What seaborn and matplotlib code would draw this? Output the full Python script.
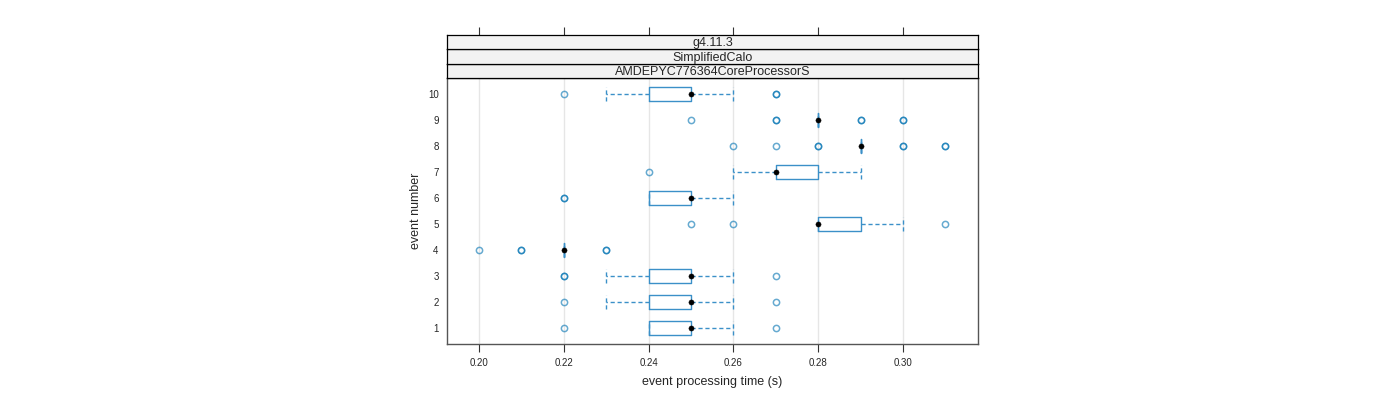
import pandas as pd
import numpy as np
import matplotlib
matplotlib.use("Agg")
import matplotlib.pyplot as plt
import seaborn as sns

# ── DATA ─────────────────────────────────────────────────────────────────────
# event processing times (s) per event number
ev1  = [0.22, 0.24, 0.24, 0.24, 0.25, 0.25, 0.25, 0.25, 0.25, 0.26, 0.27]
ev2  = [0.22, 0.23, 0.24, 0.24, 0.24, 0.25, 0.25, 0.25, 0.25, 0.26, 0.27]
ev3  = [0.22, 0.22, 0.23, 0.24, 0.24, 0.24, 0.25, 0.25, 0.25, 0.25, 0.25, 0.26, 0.27]
ev4  = [0.20, 0.21, 0.21] + [0.22] * 8 + [0.23, 0.23]
ev5  = [0.25, 0.26, 0.28, 0.28, 0.28, 0.28, 0.28, 0.29, 0.29, 0.29, 0.30, 0.31]
ev6  = [0.22, 0.22, 0.24, 0.24, 0.24, 0.25, 0.25, 0.25, 0.25, 0.25, 0.26]
ev7  = [0.24, 0.26, 0.27, 0.27, 0.27, 0.27, 0.27, 0.28, 0.28, 0.28, 0.29]
ev8  = [0.26, 0.27, 0.28, 0.28] + [0.29] * 9 + [0.30, 0.30, 0.31, 0.31]
ev9  = [0.25, 0.27, 0.27] + [0.28] * 10 + [0.29, 0.29, 0.30, 0.30]
ev10 = [0.22, 0.23, 0.24, 0.24, 0.24, 0.25, 0.25, 0.25, 0.25, 0.25, 0.26, 0.27, 0.27]

events = [1, 2, 3, 4, 5, 6, 7, 8, 9, 10]
times = [ev1, ev2, ev3, ev4, ev5, ev6, ev7, ev8, ev9, ev10]
x_ticks = [0.20, 0.22, 0.24, 0.26, 0.28, 0.30]
strips = ["g4.11.3", "SimplifiedCalo", "AMDEPYC776364CoreProcessorS"]

df = pd.DataFrame({
    "event": np.repeat(events, [len(t) for t in times]),
    "time": np.concatenate(times),
})
med = df.groupby("event")["time"].median().reset_index()

# ── STYLE ────────────────────────────────────────────────────────────────────
sns.set_style("white")
plt.rcParams["font.family"] = ["Liberation Sans", "DejaVu Sans"]
BOX = "#3b90c8"
PT = (0.0, 0.447, 0.698, 0.6)
XLIM = (0.19245, 0.31769)

fig = plt.figure(figsize=(14, 4), dpi=100)
ax = fig.add_axes([0.3193, 0.14, 0.3793, 0.665])

sns.boxplot(data=df, x="time", y="event", orient="y", native_scale=True,
            whis=1.5, width=0.54, fill=False, color=BOX, linecolor=BOX,
            saturation=1, linewidth=1,
            medianprops=dict(visible=False),
            whiskerprops=dict(linestyle=(0, (3, 2))),
            capprops=dict(linestyle=(0, (3, 2))),
            flierprops=dict(marker="o", markerfacecolor="none",
                            markeredgecolor=PT, markersize=4.5,
                            markeredgewidth=1.1),
            capwidths=0.54, ax=ax)
# the boxes themselves come out as patches: give them the light blue too
for p in ax.patches:
    p.set_edgecolor(BOX)
    p.set_facecolor("none")
    p.set_alpha(None)

for v in x_ticks:
    ax.axvline(v, color="#e6e6e6", lw=1, zorder=0)
sns.scatterplot(data=med, x="time", y="event", color="black", s=14,
                edgecolor="black", zorder=5, ax=ax, legend=False)

ax.set_xlim(*XLIM)
ax.set_ylim(0.385, 10.615)
ax.set_xticks(x_ticks)
ax.set_xticklabels([f"{v:.2f}" for v in x_ticks], fontsize=7)
ax.set_yticks(events)
ax.set_yticklabels([str(e) for e in events], fontsize=7)
ax.tick_params(axis="x", length=6, width=0.8, color="#333333", pad=4,
               direction="out", bottom=True)
ax.tick_params(axis="y", length=0, pad=6)
ax.set_xlabel("event processing time (s)", fontsize=9, labelpad=6)
ax.set_ylabel("event number", fontsize=9, labelpad=4)
for s in ax.spines.values():
    s.set_color("#555555")
    s.set_linewidth(1)

# strips on top of the panel
h = 0.0358
for i, lab in enumerate(reversed(strips)):
    sax = fig.add_axes([0.3193, 0.805 + i * h, 0.3793, h])
    sax.set_facecolor("#f2f2f2")
    sax.set_xlim(*XLIM)
    sax.set_yticks([])
    sax.text(0.5, 0.42, lab, transform=sax.transAxes, ha="center",
             va="center", fontsize=9)
    for s in sax.spines.values():
        s.set_color("black")
        s.set_linewidth(0.9)
    if i == len(strips) - 1:
        sax.set_xticks(x_ticks)
        sax.tick_params(axis="x", top=True, bottom=False, labeltop=False,
                        labelbottom=False, length=6, width=0.8,
                        color="#333333", direction="out")
    else:
        sax.set_xticks([])

fig.savefig("out.png", dpi=100)
